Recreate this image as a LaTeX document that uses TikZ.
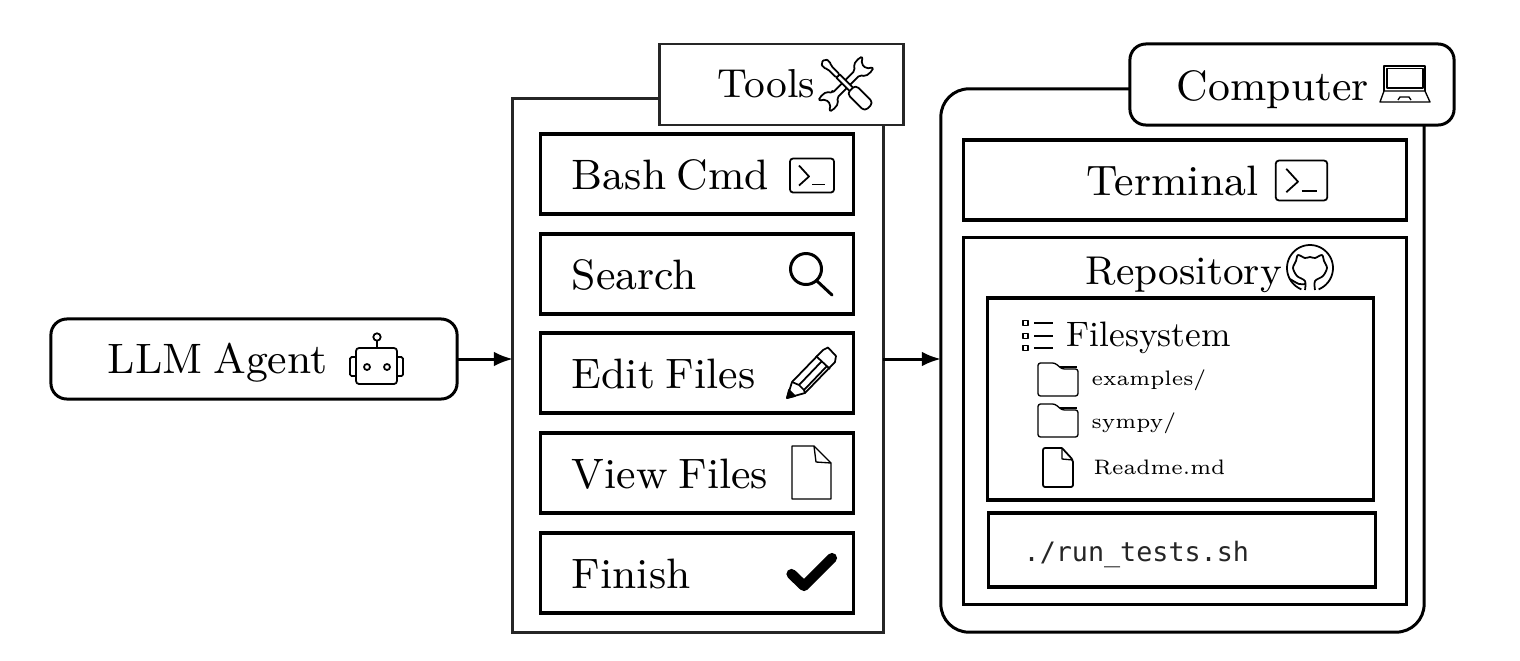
\documentclass[tikz,border=0pt]{standalone}
\usepackage{fontspec}
\newfontfamily\monofont{DejaVu Sans Mono}
\usetikzlibrary{arrows.meta}

\newcommand{\bigfont}{\fontsize{9}{11}\selectfont\spaceskip=.25em\relax}

\tikzset{
	frame/.style={draw=black!85, line width=.82pt, inner sep=0pt, outer sep=0pt, fill=white},
	itembox/.style={draw=black, line width=.9pt, inner sep=0pt, outer sep=0pt, fill=white},
	roundbox/.style={frame, draw=black, line width=.85pt, rounded corners=.16cm},
	lbl/.style={anchor=base west, inner sep=0pt, text=black},
	biglbl/.style={lbl, scale=1.344, font=\bigfont},
	repolbl/.style={lbl, scale=1.27, font=\fontsize{9}{11}\selectfont},
	fslbl/.style={lbl, font=\fontsize{10.05}{12}\selectfont},
	smalllbl/.style={lbl, font=\fontsize{5.95}{7}\selectfont},
	flow/.style={-{Latex[length=5.4pt,width=4.2pt]}, line width=.85pt},
	thinline/.style={line width=.38pt, line join=round},
	midline/.style={line width=.5pt, line join=round},
	termicon/.pic={
		\draw[midline, rounded corners=.03cm] (-22,-17) rectangle (22,17);
		\draw[midline] (-13,-10) -- (-3,1) -- (-13,10);
		\draw[midline] (0,9) -- (13,9);
	},
	foldericon/.pic={
		\draw[thinline, rounded corners=.025cm] (0,0) -- (17,0) -- (24,6) -- (40,6) -- (40,33) -- (0,33) -- cycle;
		\draw[thinline] (22,4) -- (39,4);
	},
}

\begin{document}
\begin{tikzpicture}[x=.01cm, y=-.01cm]

\useasboundingbox (0,0) rectangle (1520,660);

\node[roundbox, minimum width=4.06cm, minimum height=.8cm] (agent) at (254,359) {};
\node[biglbl] (agentlbl) at (107,373) {LLM Agent};

% tools
\node[frame, minimum width=3.7cm, minimum height=5.33cm] (toolsbox) at (698,365.5) {};
\node[frame, minimum width=2.43cm, minimum height=.81cm] (toolstab) at (781.5,84.5) {};
\node[biglbl, scale=.95] (toolslbl) at (717,97.5) {Tools};
\foreach \name/\y/\txt in {bash/174/Bash Cmd, search/274/Search, edit/373/Edit Files, view/473/View Files, finish/573/Finish} {
	\node[itembox, minimum width=3.12cm, minimum height=.8cm] (\name) at (697,\y) {};
	\node[biglbl] (\name lbl) at (571,\y+15) {\txt};
}

% computer
\node[roundbox, rounded corners=.28cm, minimum width=4.83cm, minimum height=5.43cm] (computer) at (1182.5,360.5) {};
\node[roundbox, minimum width=3.24cm, minimum height=.81cm] (computertab) at (1292,84.5) {};
\node[biglbl] (computerlbl) at (1176,100) {Computer};
\node[itembox, minimum width=4.42cm, minimum height=.8cm] (terminal) at (1185,180) {};
\node[biglbl] (terminallbl) at (1086,195.5) {Terminal};
\node[itembox, minimum width=4.42cm, minimum height=3.66cm] (repo) at (1185,421) {};
\node[repolbl] (repositorylbl) at (1085,284) {Repository};
\node[itembox, minimum width=3.85cm, minimum height=2.02cm] (filesys) at (1180.5,399) {};
\node[fslbl] (filesyslbl) at (1066,346) {Filesystem};
\node[smalllbl] (exampleslbl) at (1091,385) {examples/};
\node[smalllbl] (sympylbl) at (1091,428) {sympy/};
\node[smalllbl] (readmelbl) at (1093,474) {Readme.md};
\node[itembox, minimum width=3.86cm, minimum height=.74cm] (tests) at (1182,550) {};
\node[lbl, text=black!85] (testslbl) at (1023,561.5) {\fontsize{7.6}{9}\monofont ./run\_tests.sh};

\draw[flow] (agent.east) -- (toolsbox.west |- agent.east);
\draw[flow] (toolsbox.east |- agent.east) -- (computer.west |- agent.east);

% icons
\pic at (812,175.5) {termicon};
\pic[scale=1.17] at (1301.5,180.5) {termicon};

\begin{scope}[line width=.85pt, line cap=round]
\draw (806,269) circle[radius=15.5];
\draw (817,281) -- (832,295);
\end{scope}

\begin{scope}[midline]
\draw (787,398) -- (792,382) -- (823,350) -- (828,347.5) -- (836,356) -- (835,362) -- (805,393) -- cycle;
\draw (816,356) -- (830,369);
\draw (799,385) -- (822,361);
\draw (804,390) -- (827,366);
\draw (792,382) -- (799,385) -- (804,390) -- (805,393);
\draw[fill=black] (787,398) -- (789,390) -- (795,396) -- cycle;
\end{scope}

\draw[thinline] (792,446) -- (814,446) -- (831,463) -- (831,499) -- (792,499) -- cycle;
\draw[thinline] (814,446) -- (816,462) -- (831,463);

\draw[line width=2.9pt, line cap=round, line join=round] (791.5,574) -- (804,586) -- (832,558);

% wrench and screwdriver
\begin{scope}[shift={(846,84)}, rotate=45, scale=.84, midline]
\draw[rounded corners=.02cm] (-19,-4) -- (19,-4) -- (23,-10) -- (33,-11) -- (37,-9) -- (30,-4) -- (30,4) -- (37,9) -- (33,11) -- (23,10) -- (19,4) -- (-19,4) -- (-23,10) -- (-33,11) -- (-37,9) -- (-30,4) -- (-30,-4) -- (-37,-9) -- (-33,-11) -- (-23,-10) -- (-19,-4) -- cycle;
\end{scope}
\begin{scope}[shift={(846,84)}, rotate=-45, scale=.93, midline]
\draw[fill=white] (-12,-2.5) rectangle (10,2.5);
\draw[fill=white, rounded corners=.04cm] (8,-6.5) rectangle (35,6.5);
\draw[fill=white, rounded corners=.02cm] (-35,-3) -- (-30,-5) -- (-25,-2.5) -- (-12,-2.5) -- (-12,2.5) -- (-25,2.5) -- (-30,5) -- (-35,3) -- cycle;
\end{scope}

% laptop
\begin{scope}[thinline]
\draw (1384,91) -- (1384,66) -- (1425,66) -- (1425,91);
\draw (1387,88) rectangle (1423,68.5);
\draw (1384,91) -- (1425,91) -- (1430,102) -- (1380,102) -- cycle;
\draw (1398,100) -- (1400,97) -- (1409,97) -- (1411,100);
\end{scope}

% robot
\begin{scope}[midline]
\draw[rounded corners=.03cm] (356,348) rectangle (397,384);
\draw[rounded corners=.015cm] (356,357) -- (350,357) -- (350,376) -- (356,376);
\draw[rounded corners=.015cm] (397,357) -- (403,357) -- (403,376) -- (397,376);
\draw (377,337) circle[radius=3.7];
\draw (377,341) -- (377,348);
\draw (367,367) circle[radius=3];
\draw (387,367) circle[radius=3];
\end{scope}

% github
\begin{scope}[shift={(1310,268)}, midline]
\draw plot[domain=112:428, samples=60, smooth] ({23*cos(\x)},{23*sin(\x)});
\draw plot[smooth] coordinates {(-5,22) (-5,13) (-13,8) (-17,0) (-14,-7) (-12,-13) (-5,-10) (0,-11) (5,-10) (12,-13) (14,-7) (17,0) (13,8) (5,13) (5,22)};
\draw plot[smooth] coordinates {(-20,11) (-11,16) (-5,16)};
\end{scope}

% list
\begin{scope}[midline]
\foreach \y in {323,336,348} {
	\draw (1023,\y-2.5) rectangle (1028,\y+2.5);
}
\draw (1034,323) -- (1053,323);
\draw (1034,336) -- (1053,336);
\draw[line width=.6pt] (1034,348) -- (1053,348);
\end{scope}

\pic at (1038,363) {foldericon};
\pic at (1038,404) {foldericon};

\begin{scope}[midline, rounded corners=.02cm]
\draw (1062,448) -- (1043,448) -- (1043,487) -- (1073,487) -- (1073,460) -- (1062,448);
\end{scope}
\draw[thinline] (1062,448) -- (1062,459) -- (1073,460);

\end{tikzpicture}
\end{document}
